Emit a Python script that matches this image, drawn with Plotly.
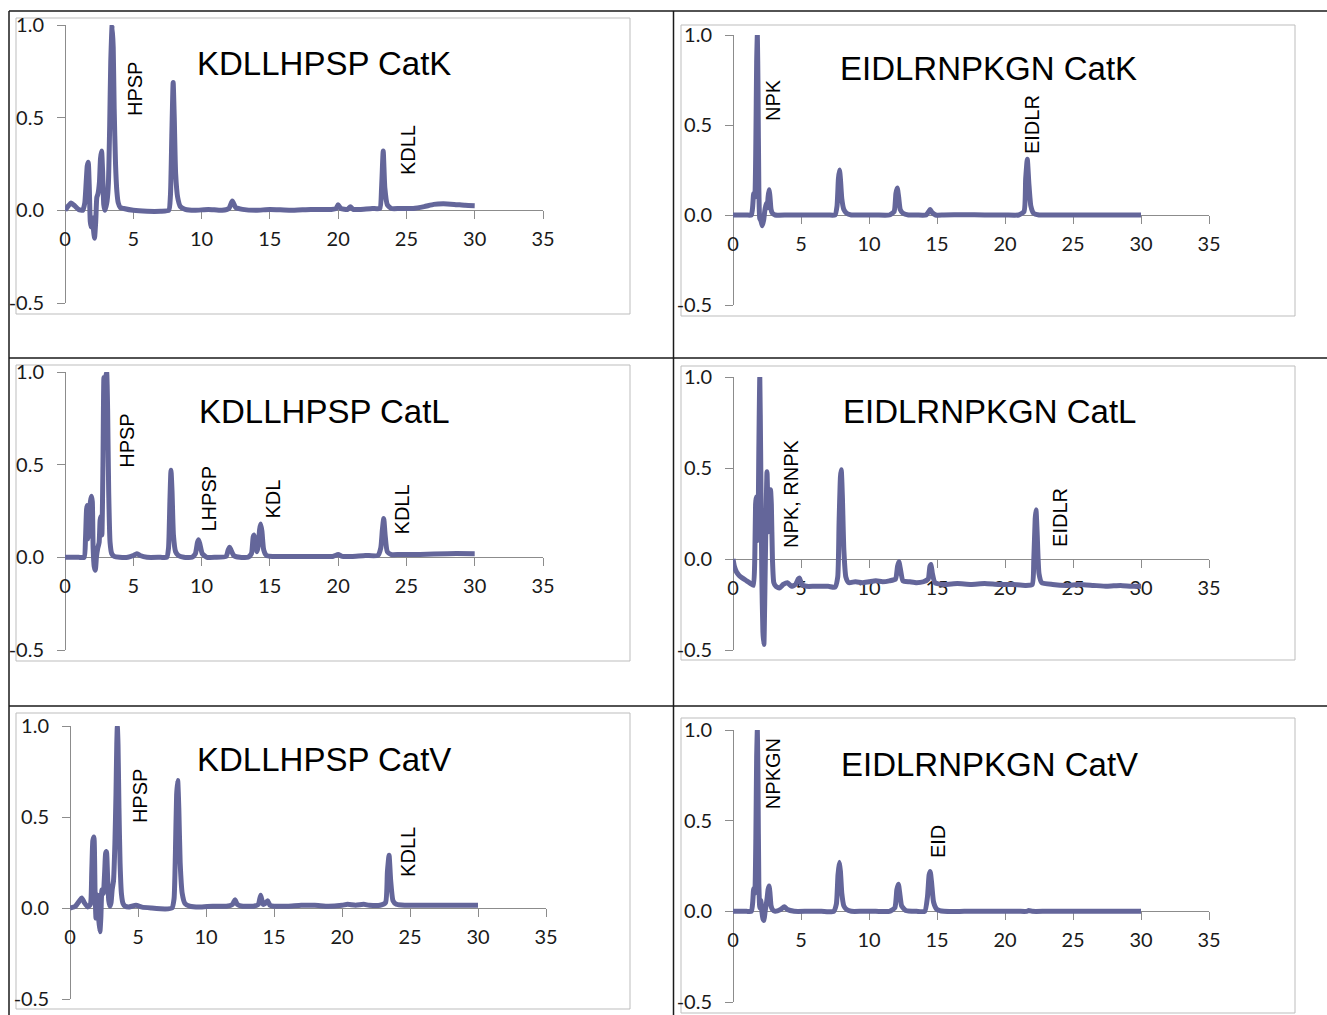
import plotly.graph_objects as go

W, H = 1327, 1015
LINE_COLOR = "#64669A"
AXIS_COLOR = "#8C8C8C"

# ---------------- data ----------------
# KDLLHPSP CatK
kd_catk_t = [0, 0.2, 0.45, 0.7, 1.0, 1.3, 1.45, 1.55, 1.63, 1.7, 1.78, 1.85, 1.92, 2.0, 2.08, 2.16, 2.25,
             2.33, 2.42, 2.52, 2.6, 2.68, 2.76, 2.84, 2.92, 3.0, 3.08, 3.18, 3.27, 3.35, 3.45, 3.53, 3.6,
             3.7, 3.8, 3.9, 4.05, 4.3, 5.0, 6.0, 7.0, 7.6, 7.72, 7.82, 7.92, 8.0, 8.1, 8.25, 8.45, 8.8,
             9.5, 10.5, 11.5, 12.0, 12.25, 12.5, 13.0, 14.0, 15.0, 16.5, 18.0, 19.5, 19.85, 20.0, 20.2,
             20.7, 20.9, 21.1, 21.6, 22.5, 23.05, 23.18, 23.3, 23.42, 23.6, 23.9, 24.5, 25.5, 26.3, 27.0,
             27.7, 28.5, 29.3, 30.0]
kd_catk_v = [0, 0.02, 0.04, 0.025, 0.005, 0.0, 0.04, 0.15, 0.24, 0.26, 0.12, -0.06, -0.09, -0.04, -0.1,
             -0.15, -0.06, 0.07, 0.09, 0.15, 0.28, 0.32, 0.2, 0.03, 0.0, 0.02, 0.05, 0.15, 0.45, 0.8, 1.0,
             0.88, 0.55, 0.25, 0.1, 0.04, 0.015, 0.01, 0.0, -0.005, -0.005, 0.0, 0.08, 0.4, 0.69, 0.5,
             0.2, 0.07, 0.02, 0.005, 0.0, 0.005, 0.0, 0.01, 0.05, 0.015, 0.005, 0.0, 0.005, 0.0, 0.005,
             0.005, 0.01, 0.03, 0.01, 0.005, 0.02, 0.005, 0.005, 0.01, 0.01, 0.12, 0.32, 0.12, 0.03,
             0.01, 0.01, 0.01, 0.02, 0.032, 0.035, 0.032, 0.027, 0.025]
kd_catk_labels = ["HPSP", "KDLL"]
kd_catk_label_t = [5.12, 25.1]
kd_catk_label_v = [0.654, 0.324]

# EIDLRNPKGN CatK
ei_catk_t = [0, 0.5, 1.0, 1.35, 1.45, 1.52, 1.6, 1.68, 1.74, 1.79, 1.84, 1.9, 1.97, 2.05, 2.15, 2.25, 2.35,
             2.45, 2.52, 2.58, 2.65, 2.72, 2.8, 2.9, 3.1, 4.0, 5.0, 6.0, 7.0, 7.5, 7.65, 7.75, 7.83, 7.9,
             8.0, 8.15, 8.35, 8.7, 9.5, 10.5, 11.5, 11.85, 11.98, 12.08, 12.18, 12.3, 12.5, 12.9, 13.5,
             14.2, 14.4, 14.5, 14.62, 14.9, 15.5, 17.0, 18.5, 20.0, 21.0, 21.4, 21.52, 21.64, 21.75, 21.9,
             22.1, 22.5, 23.5, 25.0, 26.5, 28.0, 30.0]
ei_catk_v = [0, 0, 0, 0.0, 0.05, 0.12, 0.1, 0.4, 0.85, 1.0, 0.7, 0.15, -0.02, -0.03, -0.06, -0.03, 0.03,
             0.065, 0.04, 0.1, 0.14, 0.1, 0.03, 0.01, 0.0, 0, 0, 0, 0, 0.0, 0.05, 0.2, 0.25, 0.2, 0.09,
             0.03, 0.01, 0.0, 0, 0, 0.0, 0.02, 0.12, 0.15, 0.1, 0.03, 0.01, 0.0, 0, 0.0, 0.02, 0.03,
             0.015, 0.0, 0, 0.002, 0, 0, 0.0, 0.02, 0.2, 0.31, 0.18, 0.05, 0.01, 0.0, 0, 0, 0, 0, 0]
ei_catk_labels = ["NPK", "EIDLR"]
ei_catk_label_t = [2.94, 21.99]
ei_catk_label_v = [0.639, 0.5]

# KDLLHPSP CatL
kd_catl_t = [0, 0.5, 1.0, 1.4, 1.5, 1.58, 1.63, 1.7, 1.78, 1.86, 1.94, 2.0, 2.06, 2.14, 2.22, 2.3, 2.4, 2.5,
             2.57, 2.63, 2.7, 2.78, 2.85, 2.92, 2.98, 3.05, 3.12, 3.2, 3.3, 3.42, 3.6, 4.0, 4.6, 5.0, 5.25,
             5.5, 6.0, 7.0, 7.45, 7.58, 7.68, 7.76, 7.84, 7.94, 8.1, 8.3, 8.7, 9.3, 9.55, 9.7, 9.78, 9.88,
             10.05, 10.4, 11.0, 11.8, 11.95, 12.05, 12.15, 12.35, 12.8, 13.4, 13.65, 13.78, 13.85, 13.95,
             14.05, 14.15, 14.25, 14.33, 14.42, 14.55, 14.75, 15.2, 16.5, 18.0, 19.6, 20.0, 20.3, 21.0,
             22.0, 22.9, 23.12, 23.24, 23.34, 23.44, 23.6, 23.9, 24.5, 26.0, 28.0, 30.0]
kd_catl_v = [0, 0, 0, 0.0, 0.1, 0.26, 0.28, 0.1, 0.15, 0.3, 0.33, 0.3, 0.05, -0.05, -0.07, 0.0, 0.05, 0.08,
             0.2, 0.22, 0.12, 0.5, 0.97, 0.9, 0.97, 1.0, 0.8, 0.35, 0.08, 0.02, 0.005, 0.0, 0.0, 0.01, 0.02,
             0.01, 0.0, 0.0, 0.0, 0.05, 0.3, 0.47, 0.35, 0.12, 0.03, 0.01, 0.0, 0.0, 0.02, 0.08, 0.095,
             0.07, 0.02, 0.0, 0, 0.005, 0.04, 0.055, 0.04, 0.01, 0.0, 0.0, 0.02, 0.11, 0.12, 0.08, 0.03,
             0.06, 0.15, 0.18, 0.14, 0.04, 0.01, 0.005, 0.005, 0.005, 0.005, 0.015, 0.005, 0.005, 0.01,
             0.01, 0.05, 0.15, 0.21, 0.12, 0.03, 0.015, 0.015, 0.015, 0.02, 0.02]
kd_catl_labels = ["HPSP", "LHPSP", "KDL", "KDLL"]
kd_catl_label_t = [4.54, 10.54, 15.23, 24.67]
kd_catl_label_v = [0.629, 0.317, 0.312, 0.258]

# EIDLRNPKGN CatL
ei_catl_t = [0, 0.1, 0.25, 0.45, 0.7, 1.0, 1.3, 1.5, 1.6, 1.66, 1.7, 1.76, 1.83, 1.9, 1.97, 2.03, 2.12, 2.2,
             2.27, 2.34, 2.42, 2.5, 2.56, 2.62, 2.7, 2.76, 2.82, 2.9, 3.0, 3.15, 3.4, 3.7, 4.0, 4.3, 4.6,
             4.8, 4.9, 5.05, 5.4, 6.0, 7.0, 7.5, 7.7, 7.8, 7.9, 7.96, 8.04, 8.15, 8.3, 8.5, 9.0, 9.5,
             10.0, 10.5, 11.0, 11.5, 11.95, 12.1, 12.2, 12.32, 12.5, 13.0, 13.5, 14.0, 14.35, 14.48,
             14.56, 14.66, 14.85, 15.5, 16.5, 17.5, 18.5, 19.5, 20.5, 21.5, 22.0, 22.12, 22.22, 22.28,
             22.36, 22.5, 22.7, 23.5, 24.5, 25.5, 26.5, 27.5, 28.5, 29.3, 30.0]
ei_catl_v = [0.0, -0.04, -0.07, -0.09, -0.105, -0.12, -0.135, -0.145, 0.0, 0.3, 0.34, 0.1, 0.15, 0.6, 1.0,
             0.6, -0.1, -0.4, -0.47, -0.2, 0.2, 0.48, 0.3, 0.15, 0.3, 0.38, 0.3, 0.0, -0.13, -0.15, -0.16,
             -0.14, -0.13, -0.15, -0.14, -0.11, -0.105, -0.14, -0.15, -0.15, -0.15, -0.155, -0.1, 0.2,
             0.45, 0.49, 0.35, 0.05, -0.1, -0.13, -0.125, -0.13, -0.125, -0.12, -0.125, -0.12, -0.11,
             -0.04, -0.015, -0.06, -0.12, -0.125, -0.13, -0.125, -0.11, -0.04, -0.03, -0.08, -0.13,
             -0.14, -0.135, -0.14, -0.135, -0.14, -0.14, -0.145, -0.14, 0.0, 0.22, 0.27, 0.15, -0.08,
             -0.13, -0.14, -0.145, -0.14, -0.145, -0.15, -0.145, -0.15, -0.15]
ei_catl_labels = ["NPK, RNPK", "EIDLR"]
ei_catl_label_t = [4.26, 24.04]
ei_catl_label_v = [0.357, 0.231]

# KDLLHPSP CatV
kd_catv_t = [0, 0.4, 0.7, 0.86, 1.05, 1.3, 1.5, 1.6, 1.68, 1.76, 1.84, 1.91, 1.97, 2.03, 2.1, 2.2, 2.27,
             2.35, 2.45, 2.55, 2.62, 2.68, 2.76, 2.85, 2.94, 3.02, 3.1, 3.2, 3.3, 3.38, 3.44, 3.48, 3.53,
             3.6, 3.68, 3.78, 3.9, 4.05, 4.3, 4.85, 5.3, 6.0, 7.0, 7.5, 7.65, 7.75, 7.84, 7.92, 8.0, 8.1,
             8.25, 8.45, 8.8, 9.5, 10.5, 11.5, 11.95, 12.13, 12.3, 12.7, 13.5, 13.85, 14.02, 14.2, 14.35,
             14.53, 14.7, 15.0, 16.0, 17.0, 18.0, 19.0, 20.0, 20.4, 21.0, 21.6, 22.0, 22.8, 23.2, 23.34,
             23.46, 23.58, 23.75, 24.0, 24.6, 25.5, 27.0, 28.5, 30.0]
kd_catv_v = [0.0, 0.01, 0.04, 0.055, 0.03, 0.005, 0.02, 0.2, 0.37, 0.39, 0.1, -0.055, 0.02, 0.07, -0.05,
             -0.13, -0.05, 0.1, 0.08, 0.2, 0.3, 0.31, 0.18, 0.04, 0.01, 0.03, 0.1, 0.15, 0.35, 0.62, 0.9,
             1.0, 0.9, 0.55, 0.25, 0.08, 0.025, 0.01, 0.005, 0.015, 0.005, 0.0, -0.005, 0.0, 0.05, 0.3,
             0.62, 0.7, 0.55, 0.25, 0.08, 0.025, 0.01, 0.005, 0.01, 0.01, 0.02, 0.045, 0.02, 0.01, 0.01,
             0.02, 0.07, 0.02, 0.025, 0.04, 0.015, 0.01, 0.01, 0.015, 0.015, 0.01, 0.015, 0.02, 0.015,
             0.02, 0.015, 0.015, 0.03, 0.2, 0.29, 0.15, 0.04, 0.02, 0.015, 0.015, 0.015, 0.015, 0.015]
kd_catv_labels = ["HPSP", "KDLL"]
kd_catv_label_t = [5.15, 24.85]
kd_catv_label_v = [0.615, 0.308]

# EIDLRNPKGN CatV
ei_catv_t = [0, 0.5, 1.0, 1.35, 1.45, 1.52, 1.6, 1.68, 1.74, 1.79, 1.84, 1.9, 1.97, 2.05, 2.12, 2.2, 2.28,
             2.36, 2.45, 2.52, 2.58, 2.65, 2.72, 2.8, 2.9, 3.1, 3.5, 3.77, 4.0, 4.5, 5.5, 6.5, 7.4, 7.6,
             7.72, 7.82, 7.9, 8.0, 8.15, 8.35, 8.7, 9.5, 10.5, 11.5, 11.9, 12.05, 12.16, 12.26, 12.4, 12.7,
             13.5, 14.1, 14.3, 14.42, 14.5, 14.6, 14.75, 15.0, 15.5, 17.0, 18.5, 20.0, 21.0, 21.6, 21.75,
             22.0, 23.0, 24.5, 26.0, 27.5, 29.0, 30.0]
ei_catv_v = [0, 0, 0, 0, 0.05, 0.125, 0.1, 0.4, 0.85, 1.0, 0.7, 0.15, 0.02, 0.06, 0.0, -0.04, -0.05, 0.0,
             0.04, 0.08, 0.12, 0.14, 0.1, 0.03, 0.01, 0.0, 0.01, 0.025, 0.01, 0.0, 0.0, 0.0, 0.0, 0.04,
             0.2, 0.27, 0.22, 0.1, 0.03, 0.01, 0.0, 0, 0, 0, 0.02, 0.12, 0.15, 0.1, 0.03, 0.005, 0.0,
             0.0, 0.08, 0.2, 0.22, 0.16, 0.05, 0.01, 0.0, 0.0, 0.0, 0.0, 0.0, 0.0, 0.005, 0.0, 0, 0, 0,
             0, 0, 0]
ei_catv_labels = ["NPKGN", "EID"]
ei_catv_label_t = [2.94, 15.07]
ei_catv_label_v = [0.762, 0.387]

x_ticks = [0, 5, 10, 15, 20, 25, 30, 35]
y_ticks = [-0.5, 0.0, 0.5, 1.0]
y_tick_text = ["-0.5", "0.0", "0.5", "1.0"]

# ---------------- layout geometry (pixels) ----------------
panels = [
    dict(t=kd_catk_t, v=kd_catk_v, title="KDLLHPSP CatK", lab=kd_catk_labels, lt=kd_catk_label_t,
         lv=kd_catk_label_v, xd=(65, 543), yd=(303, 25), box=(16, 18, 630, 314), tpos=(324, 63)),
    dict(t=ei_catk_t, v=ei_catk_v, title="EIDLRNPKGN CatK", lab=ei_catk_labels, lt=ei_catk_label_t,
         lv=ei_catk_label_v, xd=(733, 1209), yd=(305, 35), box=(681, 25, 1295, 316), tpos=(988, 69)),
    dict(t=kd_catl_t, v=kd_catl_v, title="KDLLHPSP CatL", lab=kd_catl_labels, lt=kd_catl_label_t,
         lv=kd_catl_label_v, xd=(65, 543), yd=(650, 372), box=(16, 365, 630, 661), tpos=(324, 411)),
    dict(t=ei_catl_t, v=ei_catl_v, title="EIDLRNPKGN CatL", lab=ei_catl_labels, lt=ei_catl_label_t,
         lv=ei_catl_label_v, xd=(733, 1209), yd=(650, 377), box=(681, 366, 1295, 660), tpos=(989, 411)),
    dict(t=kd_catv_t, v=kd_catv_v, title="KDLLHPSP CatV", lab=kd_catv_labels, lt=kd_catv_label_t,
         lv=kd_catv_label_v, xd=(70, 546), yd=(999, 726), box=(16, 713, 630, 1009), tpos=(324, 759)),
    dict(t=ei_catv_t, v=ei_catv_v, title="EIDLRNPKGN CatV", lab=ei_catv_labels, lt=ei_catv_label_t,
         lv=ei_catv_label_v, xd=(733, 1209), yd=(1002, 730), box=(681, 718, 1295, 1013), tpos=(989, 764)),
]


def fx(p):
    return p / W


def fy(p):
    return 1 - p / H


fig = go.Figure()
shapes = []
annotations = []
layout = {}

for i, p in enumerate(panels, start=1):
    xa = "x" if i == 1 else f"x{i}"
    ya = "y" if i == 1 else f"y{i}"
    xdom = [fx(p["xd"][0]), fx(p["xd"][1])]
    ydom = [fy(p["yd"][0]), fy(p["yd"][1])]
    zero_pos = ydom[0] + (ydom[1] - ydom[0]) * (0.5 / 1.5)

    fig.add_trace(go.Scatter(x=p["t"], y=p["v"], mode="lines", xaxis=xa, yaxis=ya, showlegend=False,
                             line=dict(color=LINE_COLOR, width=5, shape="spline", smoothing=0.5),
                             hoverinfo="skip"))

    layout["xaxis" if i == 1 else f"xaxis{i}"] = dict(
        domain=xdom, range=[0, 35], anchor="free", position=zero_pos, automargin=False,
        tickmode="array", tickvals=x_ticks, showline=True, linecolor=AXIS_COLOR, linewidth=1,
        ticks="outside", ticklen=8, tickcolor=AXIS_COLOR, tickwidth=1, showgrid=False, zeroline=False,
        tickfont=dict(family="Lato", size=20, color="#1a1a1a"), layer="below traces",
        ticklabelstandoff=3, fixedrange=True,
    )
    layout["yaxis" if i == 1 else f"yaxis{i}"] = dict(
        domain=ydom, range=[-0.5, 1.0], anchor="free", position=xdom[0], automargin=False,
        tickmode="array", tickvals=y_ticks, ticktext=y_tick_text, showline=True, linecolor=AXIS_COLOR,
        linewidth=1, ticks="outside", ticklen=8, tickcolor=AXIS_COLOR, tickwidth=1, showgrid=False,
        zeroline=False, tickfont=dict(family="Lato", size=20, color="#1a1a1a"), layer="below traces",
        ticklabelstandoff=9, fixedrange=True,
    )

    x0, y0, x1, y1 = p["box"]
    shapes.append(dict(type="rect", xref="paper", yref="paper", x0=fx(x0), x1=fx(x1), y0=fy(y1), y1=fy(y0),
                       line=dict(color="#BDBDBD", width=1), fillcolor="rgba(0,0,0,0)", layer="below"))

    annotations.append(dict(text=p["title"], xref="paper", yref="paper", x=fx(p["tpos"][0]),
                            y=fy(p["tpos"][1]), xanchor="center", yanchor="middle", showarrow=False,
                            font=dict(family="Liberation Sans", size=33, color="#000000")))
    for name, lt, lv in zip(p["lab"], p["lt"], p["lv"]):
        annotations.append(dict(text=name, xref=xa, yref=ya, x=lt, y=lv, xanchor="center",
                                yanchor="middle", showarrow=False, textangle=-90,
                                font=dict(family="Liberation Sans", size=20, color="#000000")))

# outer table lines
grid_lines = [
    (9, 11, 1327, 11), (9, 358, 1327, 358), (9, 706, 1327, 706),
    (9, 11, 9, 1015), (673.5, 11, 673.5, 1015),
]
for x0, y0, x1, y1 in grid_lines:
    shapes.append(dict(type="line", xref="paper", yref="paper", x0=fx(x0), x1=fx(x1), y0=fy(y0), y1=fy(y1),
                       line=dict(color="#1a1a1a", width=1.5), layer="below"))

fig.update_layout(
    width=W, height=H, margin=dict(l=0, r=0, t=0, b=0, pad=0, autoexpand=False),
    paper_bgcolor="white", plot_bgcolor="rgba(0,0,0,0)",
    shapes=shapes, annotations=annotations, font=dict(family="Lato"),
    **layout,
)

fig.write_html(
    "out.html",
    config={"displayModeBar": False},
    post_script="document.body.style.margin='0';document.body.style.padding='0';"
                "document.documentElement.style.overflow='hidden';",
)
